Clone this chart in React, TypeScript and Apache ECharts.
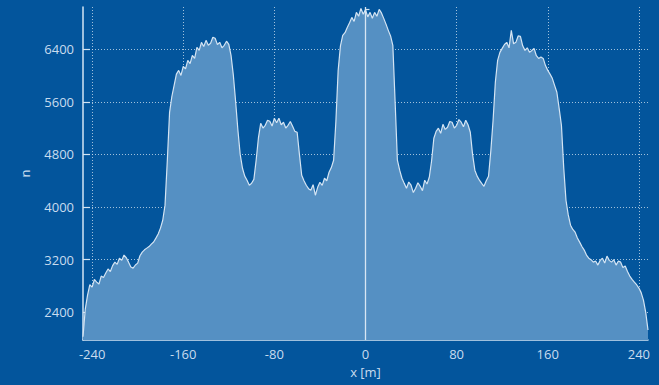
import React, { useEffect, useRef } from "react";
import * as echarts from "echarts";

// Position along the profile (m)
const positions: number[] = [
  -248, -246, -244, -242, -240, -238, -236, -234, -232, -230, -228, -226, -224, -222, -220, -218,
  -216, -214, -212, -210, -208, -206, -204, -202, -200, -198, -196, -194, -192, -190, -188, -186,
  -184, -182, -180, -178, -176, -174, -172, -170, -168, -166, -164, -162, -160, -158, -156, -154,
  -152, -150, -148, -146, -144, -142, -140, -138, -136, -134, -132, -130, -128, -126, -124, -122,
  -120, -118, -116, -114, -112, -110, -108, -106, -104, -102, -100, -98, -96, -94, -92, -90,
  -88, -86, -84, -82, -80, -78, -76, -74, -72, -70, -68, -66, -64, -62, -60, -58,
  -56, -54, -52, -50, -48, -46, -44, -42, -40, -38, -36, -34, -32, -30, -28, -26,
  -24, -22, -20, -18, -16, -14, -12, -10, -8, -6, -4, -2, 0, 2, 4, 6,
  8, 10, 12, 14, 16, 18, 20, 22, 24, 26, 28, 30, 32, 34, 36, 38,
  40, 42, 44, 46, 48, 50, 52, 54, 56, 58, 60, 62, 64, 66, 68, 70,
  72, 74, 76, 78, 80, 82, 84, 86, 88, 90, 92, 94, 96, 98, 100, 102,
  104, 106, 108, 110, 112, 114, 116, 118, 120, 122, 124, 126, 128, 130, 132, 134,
  136, 138, 140, 142, 144, 146, 148, 150, 152, 154, 156, 158, 160, 162, 164, 166,
  168, 170, 172, 174, 176, 178, 180, 182, 184, 186, 188, 190, 192, 194, 196, 198,
  200, 202, 204, 206, 208, 210, 212, 214, 216, 218, 220, 222, 224, 226, 228, 230,
  232, 234, 236, 238, 240, 242, 244, 246, 248,
];

// Counts at each position
const counts: number[] = [
  2030, 2450, 2663, 2820, 2784, 2900, 2860, 2830, 2951, 2930, 2997, 3060, 3020, 3110, 3163, 3130,
  3224, 3190, 3270, 3230, 3163, 3090, 3072, 3120, 3148, 3260, 3315, 3350, 3376, 3400, 3437, 3470,
  3528, 3590, 3680, 3800, 4029, 4700, 5440, 5680, 5850, 6020, 6077, 6000, 6139, 6100, 6230, 6180,
  6305, 6260, 6427, 6380, 6503, 6440, 6533, 6460, 6488, 6580, 6564, 6470, 6503, 6420, 6458, 6520,
  6473, 6300, 6000, 5600, 5167, 4800, 4590, 4470, 4408, 4330, 4362, 4420, 4712, 5050, 5273, 5200,
  5243, 5320, 5304, 5230, 5349, 5280, 5349, 5250, 5289, 5200, 5243, 5300, 5228, 5150, 5137, 4800,
  4484, 4400, 4332, 4280, 4256, 4340, 4180, 4300, 4377, 4330, 4438, 4400, 4529, 4600, 4712, 5300,
  6077, 6450, 6609, 6650, 6730, 6800, 6882, 6820, 6958, 6900, 7019, 6930, 7000, 6890, 6958, 6870,
  6958, 6900, 7004, 6950, 6867, 6780, 6685, 6600, 6458, 5600, 4712, 4560, 4438, 4360, 4286, 4380,
  4332, 4220, 4286, 4370, 4316, 4250, 4408, 4350, 4453, 4700, 5046, 5150, 5198, 5120, 5258, 5180,
  5213, 5300, 5289, 5200, 5243, 5330, 5289, 5220, 5319, 5250, 5137, 4800, 4560, 4470, 4408, 4360,
  4316, 4400, 4468, 4850, 5319, 5900, 6228, 6350, 6411, 6470, 6503, 6420, 6685, 6480, 6503, 6600,
  6594, 6450, 6381, 6420, 6351, 6380, 6411, 6300, 6259, 6280, 6259, 6150, 6077, 6020, 5956, 5850,
  5744, 5500, 5243, 4600, 4104, 3880, 3725, 3660, 3619, 3530, 3467, 3400, 3346, 3270, 3224, 3200,
  3163, 3180, 3118, 3190, 3224, 3150, 3255, 3190, 3163, 3200, 3118, 3180, 3163, 3080, 3103, 3020,
  2951, 2900, 2860, 2820, 2769, 2700, 2587, 2400, 2132,
];

const xMajorTicks: number[] = [-240, -160, -80, 0, 80, 160, 240];
const xMinorTicks: number[] = [
  -240, -220, -200, -180, -160, -140, -120, -100, -80, -60, -40, -20, 0,
  20, 40, 60, 80, 100, 120, 140, 160, 180, 200, 220, 240,
];
const yMajorTicks: number[] = [2400, 3200, 4000, 4800, 5600, 6400];
const yMinorTicks: number[] = [
  2000, 2200, 2400, 2600, 2800, 3000, 3200, 3400, 3600, 3800, 4000, 4200, 4400, 4600,
  4800, 5000, 5200, 5400, 5600, 5800, 6000, 6200, 6400, 6600, 6800, 7000,
];

const X_MIN = -248;
const X_MAX = 248;
const Y_MIN = 1980;
const Y_MAX = 7040;

const BG = "#03559c";
const FG = "#d4e4f3";
const TEXT = "#c9dcef";
const GRID = "rgba(215,228,240,0.75)";
const FONT = "'Open Sans', 'Noto Sans', sans-serif";

const plain = (v: number) => String(v);

export default function App() {
  const ref = useRef<HTMLDivElement>(null);

  useEffect(() => {
    if (!ref.current) return;
    const chart = echarts.init(ref.current, undefined, { renderer: "svg" });
    const data = positions.map((x, i) => [x, counts[i]]);

    chart.setOption({
      animation: false,
      backgroundColor: BG,
      grid: { left: 83, right: 11, top: 7, bottom: 45, containLabel: false },
      xAxis: [
        {
          type: "value",
          min: X_MIN,
          max: X_MAX,
          position: "bottom",
          name: "x [m]",
          nameLocation: "middle",
          nameGap: 25,
          nameTextStyle: { color: TEXT, fontSize: 13, fontFamily: FONT },
          axisLine: { show: true, onZero: false, lineStyle: { color: FG, width: 1.5 } },
          axisTick: {
            show: true,
            inside: true,
            length: 8,
            customValues: xMajorTicks,
            lineStyle: { color: FG, width: 1.2 },
          },
          axisLabel: {
            color: TEXT,
            fontSize: 13,
            fontFamily: FONT,
            margin: 7,
            customValues: xMajorTicks,
            formatter: plain,
          },
          splitLine: { show: true, lineStyle: { color: GRID, type: [1, 2], width: 1 } },
        },
        {
          type: "value",
          min: X_MIN,
          max: X_MAX,
          position: "bottom",
          axisLine: { show: false },
          axisTick: {
            show: true,
            inside: true,
            length: 3,
            customValues: xMinorTicks,
            lineStyle: { color: FG, width: 1.2 },
          },
          axisLabel: { show: false },
          splitLine: { show: false },
        },
      ],
      yAxis: [
        {
          type: "value",
          min: Y_MIN,
          max: Y_MAX,
          position: "left",
          name: "n",
          nameLocation: "middle",
          nameGap: 52,
          nameTextStyle: { color: TEXT, fontSize: 13, fontFamily: FONT },
          axisLine: { show: true, onZero: false, lineStyle: { color: FG, width: 1.5 } },
          axisTick: {
            show: true,
            inside: true,
            length: 7,
            customValues: yMajorTicks,
            lineStyle: { color: FG, width: 1.2 },
          },
          axisLabel: {
            color: TEXT,
            fontSize: 13,
            fontFamily: FONT,
            margin: 9,
            customValues: yMajorTicks,
            formatter: plain,
          },
          splitLine: { show: true, lineStyle: { color: GRID, type: [1, 2], width: 1 } },
        },
        {
          type: "value",
          min: Y_MIN,
          max: Y_MAX,
          position: "left",
          axisLine: { show: false },
          axisTick: {
            show: true,
            inside: true,
            length: 4,
            customValues: yMinorTicks,
            lineStyle: { color: FG, width: 1.2 },
          },
          axisLabel: { show: false },
          splitLine: { show: false },
        },
      ],
      series: [
        {
          type: "line",
          xAxisIndex: 0,
          yAxisIndex: 0,
          data,
          showSymbol: false,
          symbol: "none",
          lineStyle: { color: FG, width: 1.2 },
          areaStyle: { color: "#5590c3", opacity: 1, origin: "start" },
          z: 1,
          markLine: {
            silent: true,
            symbol: "none",
            label: { show: false },
            lineStyle: { color: "#d8e6f3", width: 1.3, type: "solid" },
            data: [{ xAxis: 0 }],
          },
        },
      ],
    });

    return () => chart.dispose();
  }, []);

  return (
    <div
      ref={ref}
      style={{ position: "fixed", left: 0, top: 0, width: 659, height: 385 }}
    />
  );
}
